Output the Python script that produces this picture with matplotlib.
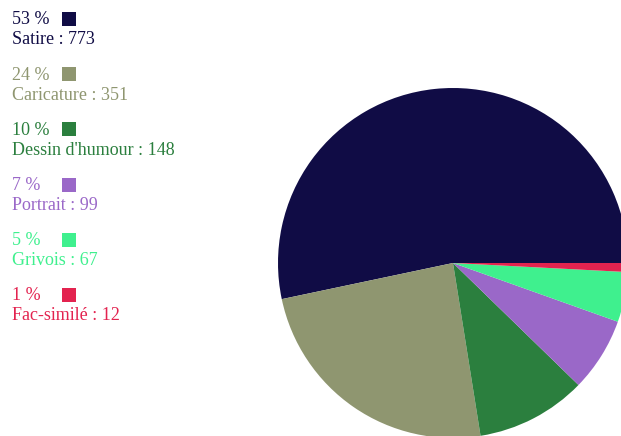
import matplotlib.pyplot as plt
from matplotlib.patches import Rectangle

categories = ['Satire', 'Caricature', "Dessin d'humour", 'Portrait', 'Grivois', 'Fac-similé']
counts = [773, 351, 148, 99, 67, 12]
colors = ['#100c45', '#8f9670', '#2b7f3e', '#9a68c8', '#3ff08e', '#e3234f']

W, H = 621, 436
fig = plt.figure(figsize=(W / 100, H / 100), dpi=100)
ax = fig.add_axes([0, 0, 1, 1])

# pie, partly cut by the right edge
ax.pie(counts, colors=colors, startangle=0, counterclock=True,
       center=(453, H - 263), radius=175, frame=True,
       wedgeprops={'linewidth': 0})
ax.set_xlim(0, W)
ax.set_ylim(0, H)
ax.set_aspect('equal')
ax.axis('off')

# legend on the left
total = sum(counts)
top = 19
step = 55.2
for i, (name, n, c) in enumerate(zip(categories, counts, colors)):
    y = top + i * step
    pct = round(100 * n / total)
    ax.text(12, H - y - 1, f'{pct} %', color=c, fontsize=13,
            family='Liberation Serif', va='center', ha='left')
    ax.add_patch(Rectangle((62, H - y - 7), 14, 14, color=c, lw=0))
    ax.text(12, H - y - 21, f'{name} : {n}', color=c, fontsize=13,
            family='Liberation Serif', va='center', ha='left')

plt.savefig('out.png', dpi=100)
